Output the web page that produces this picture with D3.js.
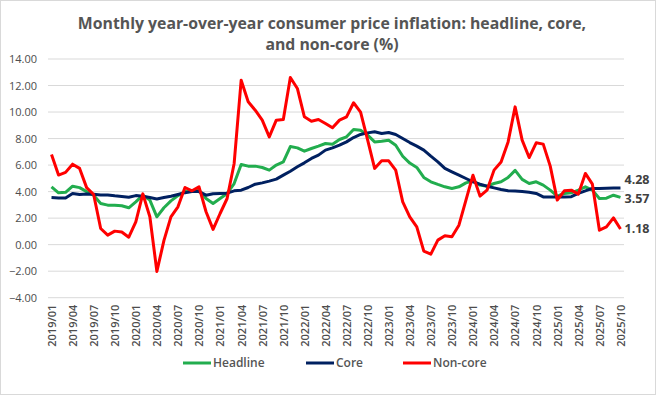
<!DOCTYPE html>
<html><head><meta charset="utf-8">
<script src="https://cdn.jsdelivr.net/npm/d3@7"></script>
<style>body{margin:0;background:#fff}svg{display:block;font-family:"Open Sans",sans-serif}</style>
</head><body><svg id="c" width="657" height="396"></svg>
<script>
const startYear = 2019, startMonth = 1, nMonths = 82;
const months = d3.range(nMonths).map(i => {
  const m = (startMonth - 1 + i) % 12 + 1, y = startYear + Math.floor((startMonth - 1 + i) / 12);
  return y + "/" + String(m).padStart(2, "0");
});
const headline = [
  4.36,3.91,3.95,4.41,4.30,4.00,3.73,3.10,2.98,2.98,2.93,2.78,
  3.23,3.73,3.36,2.10,2.78,3.30,3.70,4.00,4.03,4.10,3.48,3.10,
  3.48,3.86,4.61,6.05,5.92,5.92,5.82,5.62,6.00,6.24,7.40,7.30,
  7.05,7.25,7.43,7.63,7.58,7.93,8.13,8.69,8.63,8.26,7.75,7.80,
  7.88,7.50,6.67,6.15,5.82,5.07,4.74,4.54,4.36,4.24,4.36,4.66,
  4.81,4.49,4.41,4.61,4.74,5.07,5.60,4.92,4.61,4.74,4.49,4.11,
  3.66,3.86,3.91,4.11,4.36,4.11,3.48,3.50,3.73,3.57];
const core = [
  3.55,3.52,3.52,3.86,3.78,3.82,3.80,3.75,3.75,3.68,3.63,3.58,
  3.70,3.65,3.55,3.45,3.55,3.65,3.78,3.92,4.00,4.00,3.73,3.84,
  3.86,3.88,4.06,4.11,4.31,4.56,4.66,4.79,4.94,5.24,5.54,5.87,
  6.17,6.50,6.75,7.13,7.30,7.50,7.75,8.08,8.31,8.43,8.51,8.38,
  8.46,8.31,8.00,7.70,7.43,7.13,6.67,6.24,5.75,5.49,5.24,4.99,
  4.74,4.56,4.41,4.28,4.16,4.06,4.04,4.00,3.95,3.86,3.60,3.60,
  3.60,3.60,3.62,3.86,4.06,4.24,4.24,4.25,4.27,4.28];
const noncore = [
  6.80,5.25,5.45,6.07,5.75,4.30,3.78,1.22,0.72,1.02,0.95,0.56,
  1.72,3.83,2.10,-2.02,0.30,2.10,2.85,4.31,4.06,4.36,2.48,1.15,
  2.35,3.48,6.12,12.40,10.77,10.14,9.39,8.13,9.39,9.44,12.61,11.78,
  9.64,9.31,9.44,9.14,8.81,9.39,9.64,10.70,10.00,7.90,5.75,6.32,
  6.32,5.62,3.23,2.10,1.34,-0.49,-0.72,0.34,0.67,0.59,1.47,3.36,
  5.24,3.66,4.11,5.62,6.24,7.75,10.39,7.88,6.57,7.68,7.58,5.92,
  3.36,4.06,4.11,3.81,5.37,4.56,1.09,1.34,2.02,1.18];
const yTicks = [-4,-2,0,2,4,6,8,10,12,14];
const seriesNames = ["Headline","Core","Non-core"];
const seriesColors = ["#22ad4e","#002060","#ff0000"];
const seriesData = [headline, core, noncore];
const endLabelOffsets = [1, -8, 0];

const svg = d3.select("#c");
svg.append("rect").attr("x",0.5).attr("y",0.5).attr("width",655).attr("height",394)
  .attr("fill","#fff").attr("stroke","#d9d9d9");

const L = 48, R = 624, T = 59, B = 297.7;
const x = d3.scalePoint().domain(months).range([L, R]).padding(0.5);
const y = d3.scaleLinear().domain([-4, 14]).range([B, T]);

// grid
svg.append("g").selectAll("line").data(yTicks).join("line")
  .attr("x1", L).attr("x2", R).attr("y1", d => y(d)).attr("y2", d => y(d))
  .attr("stroke", "#d9d9d9").attr("stroke-width", 1);

// y axis
const ya = svg.append("g").attr("transform", `translate(${L},0)`)
  .call(d3.axisLeft(y).tickValues(yTicks).tickFormat(d3.format(".2f")).tickSize(0).tickPadding(11));
ya.select(".domain").remove();
ya.selectAll("text").attr("fill","#4d4d4d").style("font-size","11px").style("font-family","Open Sans");

// x axis
const xa = svg.append("g").attr("transform", `translate(0,${B})`)
  .call(d3.axisBottom(x).tickValues(months.filter((d,i) => i % 3 === 0)).tickSize(0));
xa.select(".domain").remove();
xa.selectAll("text").attr("fill","#4d4d4d").style("font-size","11px").style("font-weight","600")
  .style("font-family","Open Sans")
  .attr("transform","rotate(-90)").attr("text-anchor","end").attr("x",-7).attr("y",0).attr("dy","0.35em");

// lines
const line = d3.line().x((d,i) => x(months[i])).y(d => y(d));
seriesData.forEach((s, k) => {
  svg.append("path").datum(s).attr("d", line).attr("fill","none")
    .attr("stroke", seriesColors[k]).attr("stroke-width", 3).attr("stroke-linejoin","round");
});
// end labels
seriesData.forEach((s, k) => {
  const v = s[s.length - 1];
  svg.append("text").attr("x", x(months[nMonths-1]) + 4).attr("y", y(v) + endLabelOffsets[k])
    .attr("dy","0.35em").attr("fill","#404040").style("font-size","12.5px").style("font-weight","bold")
    .text(v.toFixed(2));
});

// title
const title = svg.append("text").attr("x", 332).attr("y", 29).attr("text-anchor","middle")
  .attr("fill","#555555").style("font-size","15.8px").style("font-weight","bold");
title.append("tspan").attr("x",332).attr("dy",0).text("Monthly year-over-year consumer price inflation: headline, core,");
title.append("tspan").attr("x",332).attr("dy",21).text("and non-core (%)");

// legend
const legX = [183, 306, 403];
seriesNames.forEach((n, k) => {
  const g = svg.append("g").attr("transform", `translate(${legX[k]},363)`);
  g.append("line").attr("x1",0).attr("x2",28).attr("stroke",seriesColors[k]).attr("stroke-width",3);
  g.append("text").attr("x",30).attr("dy","0.35em").attr("fill","#555555")
    .style("font-size","12px").style("font-weight","600").text(n);
});
</script></body></html>
